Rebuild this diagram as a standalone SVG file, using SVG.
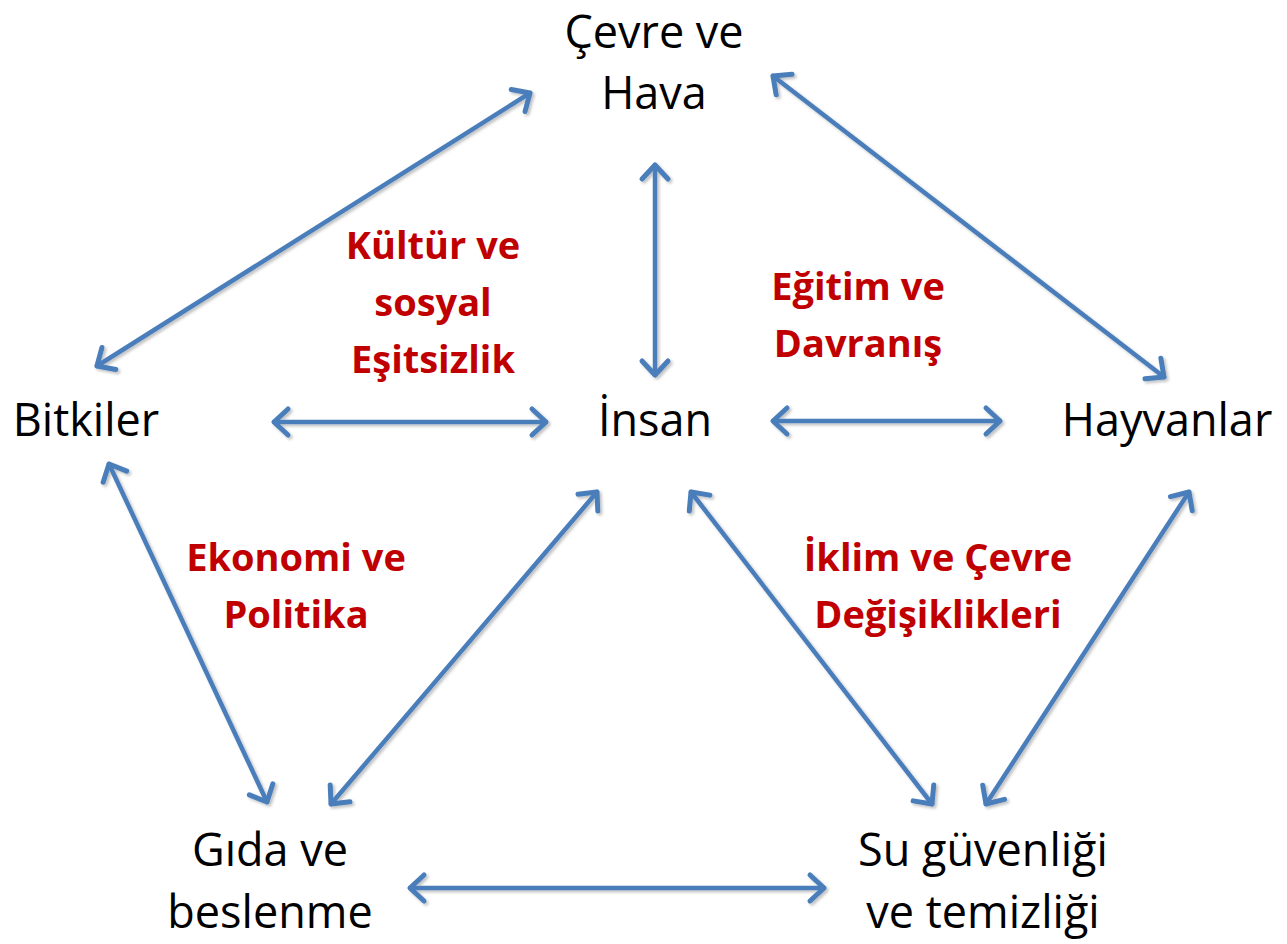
<svg xmlns="http://www.w3.org/2000/svg" width="1287" height="944" viewBox="0 0 1287 944">
<style>
.n{font-family:"Open Sans","Liberation Sans",sans-serif;font-size:45px;fill:#000;text-anchor:middle}
.r{font-family:"Open Sans","Liberation Sans",sans-serif;font-size:38px;font-weight:bold;fill:#C00000;text-anchor:middle}
.c line{stroke:#4A7EBB;stroke-width:4.5;stroke-linecap:round;marker-start:url(#ah);marker-end:url(#ah)}
</style>
<defs>
<marker id="ah" markerUnits="userSpaceOnUse" orient="auto-start-reverse" refX="0" refY="0" markerWidth="40" markerHeight="40" viewBox="-20 -20 40 40" overflow="visible">
<path d="M-14,-13 L0,0 L-14,13" fill="none" stroke="#4A7EBB" stroke-width="5" stroke-linecap="round" stroke-linejoin="round"/>
</marker>
<filter id="sh" x="-10%" y="-10%" width="120%" height="120%">
<feDropShadow dx="2" dy="2" stdDeviation="1.5" flood-color="#000" flood-opacity="0.25"/>
</filter>
</defs>
<rect width="1287" height="944" fill="#fff"/>
<g id="connectors" class="c" filter="url(#sh)">
<line x1="97" y1="366" x2="530" y2="93"/>
<line x1="773" y1="76" x2="1164" y2="377"/>
<line x1="655" y1="165" x2="655" y2="375"/>
<line x1="274" y1="422" x2="546" y2="422"/>
<line x1="773" y1="421" x2="1000" y2="421"/>
<line x1="109" y1="464" x2="267" y2="802"/>
<line x1="597" y1="492" x2="331" y2="804"/>
<line x1="691" y1="492" x2="932" y2="804"/>
<line x1="1189" y1="492" x2="986" y2="804"/>
<line x1="410" y1="888" x2="824" y2="888"/>
</g>
<g id="cevre"><text class="n" x="654" y="48">Çevre ve</text><text class="n" x="654" y="109">Hava</text></g>
<g id="bitkiler"><text class="n" x="86" y="436">Bitkiler</text></g>
<g id="insan"><text class="n" x="655" y="436">İnsan</text></g>
<g id="hayvanlar"><text class="n" x="1167" y="436">Hayvanlar</text></g>
<g id="gida"><text class="n" x="270" y="866">Gıda ve</text><text class="n" x="270" y="928">beslenme</text></g>
<g id="su"><text class="n" x="983" y="866">Su güvenliği</text><text class="n" x="983" y="928">ve temizliği</text></g>
<g id="kultur"><text class="r" x="433" y="259">Kültür ve</text><text class="r" x="433" y="316">sosyal</text><text class="r" x="433" y="373">Eşitsizlik</text></g>
<g id="egitim"><text class="r" x="858" y="300">Eğitim ve</text><text class="r" x="858" y="357">Davranış</text></g>
<g id="ekonomi"><text class="r" x="296" y="571">Ekonomi ve</text><text class="r" x="296" y="628">Politika</text></g>
<g id="iklim"><text class="r" x="938" y="571">İklim ve Çevre</text><text class="r" x="938" y="628">Değişiklikleri</text></g>
</svg>
